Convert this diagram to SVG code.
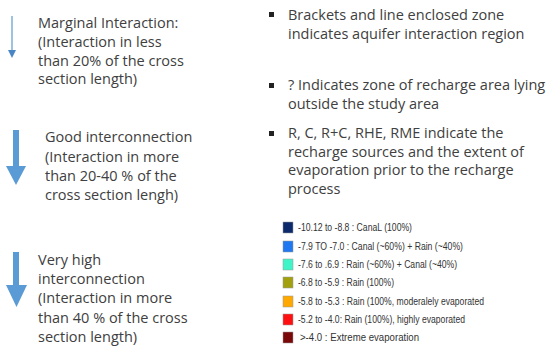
<svg xmlns="http://www.w3.org/2000/svg" width="550" height="354" viewBox="0 0 550 354">
<style>
.t{font-family:"Open Sans","Liberation Sans",sans-serif;font-size:14.5px;fill:#404040}
.b{font-family:"Open Sans","Liberation Sans",sans-serif;font-size:14.5px;fill:#404040}
.l{font-family:"Liberation Sans",Arial,sans-serif;font-size:10px;fill:#333}
.sq{stroke:#999;stroke-width:0.5}
</style>
<rect width="550" height="354" fill="#fff"/>
<g id="connectors">
<line x1="12" y1="16" x2="12" y2="51" stroke="#5b9bd5" stroke-width="1.2"/>
<polygon points="8,50 16,50 12,58" fill="#4a86c5"/>
<rect x="13" y="130" width="6" height="36" fill="#5b9bd5"/>
<polygon points="6,166 26,166 16,185" fill="#5b9bd5"/>
<rect x="13" y="252" width="6" height="34" fill="#5b9bd5"/>
<polygon points="6,285 27,285 16.5,307" fill="#5b9bd5"/>
</g>
<g id="marginal">
<text class="t" x="38" y="28">Marginal Interaction:</text>
<text class="t" x="38" y="47">(Interaction in less</text>
<text class="t" x="38" y="66">than 20% of the cross</text>
<text class="t" x="38" y="84">section length)</text>
</g>
<g id="good">
<text class="t" x="45" y="142">Good interconnection</text>
<text class="t" x="45" y="162">(Interaction in more</text>
<text class="t" x="45" y="181">than 20-40 % of the</text>
<text class="t" x="45" y="200">cross section lengh)</text>
</g>
<g id="veryhigh">
<text class="t" x="38" y="265">Very high</text>
<text class="t" x="38" y="284">interconnection</text>
<text class="t" x="38" y="303">(Interaction in more</text>
<text class="t" x="38" y="323">than 40 % of the cross</text>
<text class="t" x="38" y="342">section length)</text>
</g>
<g id="bullets">
<rect x="269" y="12" width="5" height="5" fill="#222"/>
<text class="b" x="288" y="20">Brackets and line enclosed zone</text>
<text class="b" x="288" y="39">indicates aquifer interaction region</text>
<rect x="269" y="83" width="5" height="5" fill="#222"/>
<text class="b" x="288" y="90">? Indicates zone of recharge area lying</text>
<text class="b" x="288" y="109">outside the study area</text>
<rect x="269" y="131" width="5" height="5" fill="#222"/>
<text class="b" x="288" y="138">R, C, R+C, RHE, RME indicate  the</text>
<text class="b" x="288" y="157">recharge sources and the extent of</text>
<text class="b" x="288" y="175">evaporation prior to the recharge</text>
<text class="b" x="288" y="194">process</text>
</g>
<g id="legend">
<rect class="sq" x="283" y="222" width="10" height="11" fill="#0c2a6b"/>
<text class="l" x="298" y="231" textLength="114" lengthAdjust="spacingAndGlyphs">-10.12 to -8.8 : CanaL (100%)</text>
<rect class="sq" x="283" y="241" width="10" height="11" fill="#1f78f0"/>
<text class="l" x="298" y="250" textLength="165" lengthAdjust="spacingAndGlyphs">-7.9 TO -7.0 : Canal (~60%) + Rain (~40%)</text>
<rect class="sq" x="283" y="259" width="10" height="11" fill="#3ff5c8"/>
<text class="l" x="298" y="268" textLength="159" lengthAdjust="spacingAndGlyphs">-7.6 to .6.9 : Rain (~60%) + Canal (~40%)</text>
<rect class="sq" x="283" y="277" width="10" height="11" fill="#a3a010"/>
<text class="l" x="298" y="286" textLength="96" lengthAdjust="spacingAndGlyphs">-6.8 to -5.9 : Rain (100%)</text>
<rect class="sq" x="283" y="296" width="10" height="11" fill="#ffa800"/>
<text class="l" x="298" y="305" textLength="186" lengthAdjust="spacingAndGlyphs">-5.8 to -5.3 : Rain (100%, moderalely evaporated</text>
<rect class="sq" x="283" y="314" width="10" height="11" fill="#ff1010"/>
<text class="l" x="298" y="323" textLength="167" lengthAdjust="spacingAndGlyphs">-5.2 to -4.0: Rain (100%), highly evaporated</text>
<rect class="sq" x="283" y="332" width="10" height="11" fill="#7a0808"/>
<text class="l" x="300" y="341" textLength="119" lengthAdjust="spacingAndGlyphs">&gt;-4.0 : Extreme evaporation</text>
</g>
</svg>
